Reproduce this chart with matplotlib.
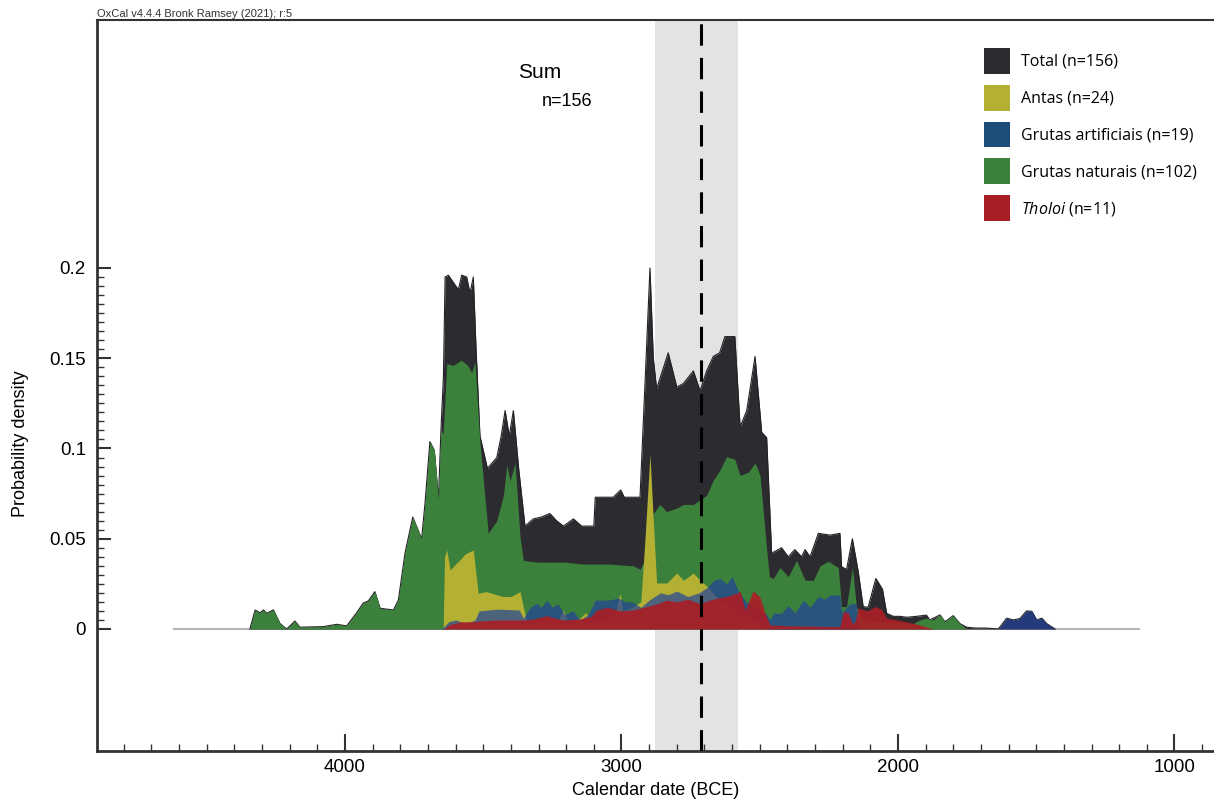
import matplotlib
matplotlib.use("Agg")
import matplotlib.pyplot as plt
from matplotlib.patches import Patch
from matplotlib.ticker import FixedLocator, MultipleLocator
import numpy as np

plt.rcParams['font.family'] = ['Liberation Sans', 'DejaVu Sans']
plt.rcParams['mathtext.fontset'] = 'custom'
plt.rcParams['mathtext.it'] = 'Open Sans:italic'
plt.rcParams['mathtext.rm'] = 'Open Sans'

# summed probability, calendar years BCE
total_years = [4344, 4325, 4307, 4295, 4283, 4259, 4235, 4211, 4181, 4163, 4078, 4030, 3994,
               3958, 3934, 3916, 3892, 3873, 3825, 3807, 3783, 3755, 3723, 3711, 3693, 3677,
               3662, 3653, 3644, 3638, 3626, 3608, 3590, 3578, 3560, 3548, 3536, 3526, 3512,
               3485, 3451, 3435, 3421, 3406, 3391, 3372, 3349, 3319, 3290, 3259, 3235, 3210,
               3174, 3144, 3100, 3095, 3030, 3003, 2990, 2933, 2915, 2897, 2885, 2873, 2831,
               2800, 2776, 2740, 2716, 2692, 2668, 2645, 2626, 2590, 2571, 2547, 2517, 2493,
               2475, 2457, 2421, 2397, 2373, 2349, 2336, 2318, 2288, 2246, 2210, 2204, 2186,
               2165, 2144, 2126, 2108, 2080, 2056, 2041, 2017, 1993, 1969, 1933, 1897, 1885,
               1848, 1830, 1800, 1776, 1752, 1720, 1680, 1637, 1607, 1583, 1559, 1535, 1516,
               1498, 1480, 1462, 1432]
total_vals = [0, 0.0105, 0.009, 0.0106, 0.0087, 0.0106, 0.003, 0.0, 0.0044, 0.001, 0.0013, 0.0026, 0.0017,
              0.009, 0.0144, 0.0155, 0.0207, 0.0115, 0.0105, 0.016, 0.042, 0.062, 0.050, 0.069, 0.1038, 0.099,
              0.072, 0.110, 0.140, 0.195, 0.196, 0.192, 0.188, 0.196, 0.195, 0.186, 0.195, 0.155, 0.107,
              0.089, 0.095, 0.107, 0.121, 0.107, 0.121, 0.089, 0.057, 0.061, 0.062, 0.064, 0.060, 0.057,
              0.061, 0.057, 0.057, 0.073, 0.073, 0.077, 0.073, 0.073, 0.136, 0.200, 0.150, 0.133, 0.153,
              0.134, 0.136, 0.143, 0.132, 0.143, 0.151, 0.153, 0.162, 0.162, 0.112, 0.121, 0.151, 0.109,
              0.106, 0.042, 0.045, 0.040, 0.044, 0.040, 0.044, 0.040, 0.053, 0.052, 0.053, 0.0345, 0.033,
              0.050, 0.032, 0.0124, 0.012, 0.028, 0.022, 0.0087, 0.007, 0.007, 0.0065, 0.007, 0.0077, 0.005,
              0.0078, 0.004, 0.0074, 0.003, 0.001, 0.0005, 0.0005, 0.0, 0.006, 0.005, 0.0058, 0.010, 0.0098,
              0.005, 0.006, 0.003, 0.0]

naturais_years = [4344, 4325, 4307, 4295, 4283, 4259, 4235, 4211, 4181, 4163, 4078, 4030, 3994,
                  3958, 3934, 3916, 3892, 3873, 3825, 3807, 3783, 3755, 3723, 3711, 3693, 3677,
                  3662, 3653, 3645, 3632, 3608, 3580, 3556, 3542, 3530, 3512, 3482, 3451, 3427,
                  3415, 3403, 3385, 3367, 3355, 3300, 3200, 3144, 3050, 2957, 2933, 2910, 2885,
                  2861, 2837, 2800, 2776, 2740, 2716, 2692, 2668, 2644, 2620, 2590, 2571, 2540,
                  2517, 2499, 2475, 2465, 2451, 2427, 2397, 2367, 2336, 2306, 2282, 2252, 2216,
                  2204, 2186, 2165, 2150, 2126, 2080, 2017, 1970, 1945, 1921, 1897, 1872, 1848,
                  1830, 1800, 1776, 1752]
naturais_vals = [0, 0.0105, 0.009, 0.0106, 0.0087, 0.0106, 0.003, 0.0, 0.0044, 0.001, 0.0013, 0.0026, 0.0017,
                 0.009, 0.0144, 0.0155, 0.0207, 0.0115, 0.0105, 0.016, 0.042, 0.062, 0.050, 0.069, 0.1038, 0.099,
                 0.072, 0.110, 0.108, 0.147, 0.146, 0.149, 0.146, 0.142, 0.148, 0.103, 0.053, 0.060, 0.074,
                 0.091, 0.082, 0.092, 0.051, 0.038, 0.037, 0.037, 0.036, 0.036, 0.035, 0.033, 0.040, 0.064,
                 0.069, 0.065, 0.067, 0.069, 0.069, 0.0715, 0.074, 0.0825, 0.088, 0.0955, 0.094, 0.085, 0.087,
                 0.092, 0.085, 0.044, 0.029, 0.028, 0.034, 0.029, 0.038, 0.027, 0.027, 0.035, 0.0375, 0.034,
                 0.0124, 0.0124, 0.034, 0.012, 0.005, 0.004, 0.004, 0.003, 0.003, 0.005, 0.006, 0.005, 0.0078,
                 0.004, 0.0074, 0.003, 0.0]

antas_years = [3645, 3640, 3632, 3620, 3600, 3580, 3566, 3536, 3526, 3518, 3490, 3463, 3430,
               3400, 3367, 3355, 3343, 3320, 3270, 3230, 3210, 3195, 3150, 3130, 3110, 3060,
               3020, 3005, 2995, 2960, 2930, 2915, 2897, 2885, 2873, 2836, 2800, 2776, 2740,
               2716, 2693, 2670, 2640, 2600, 2560, 2500, 2470]
antas_vals = [0, 0.040, 0.0438, 0.0327, 0.036, 0.039, 0.0415, 0.0438, 0.030, 0.0198, 0.0207, 0.0195, 0.018,
              0.018, 0.0207, 0.012, 0.005, 0.004, 0.006, 0.005, 0.0105, 0.004, 0.006, 0.009, 0.005, 0.005,
              0.010, 0.0198, 0.010, 0.012, 0.015, 0.050, 0.097, 0.060, 0.0255, 0.0255, 0.031, 0.027, 0.031,
              0.027, 0.024, 0.020, 0.015, 0.012, 0.008, 0.004, 0.0]

artificiais_years = [3650, 3625, 3600, 3560, 3530, 3515, 3450, 3370, 3355, 3330, 3307, 3290, 3270,
                     3250, 3230, 3205, 3175, 3150, 3120, 3095, 3050, 3010, 2985, 2960, 2930, 2900,
                     2860, 2830, 2800, 2760, 2720, 2690, 2665, 2644, 2620, 2600, 2580, 2550, 2500,
                     2475, 2463, 2451, 2421, 2397, 2373, 2342, 2318, 2288, 2264, 2246, 2210, 2204,
                     2174, 2150, 2144, 1637, 1607, 1583, 1559, 1535, 1516, 1498, 1480, 1462, 1432]
artificiais_vals = [0, 0.004, 0.005, 0.003, 0.005, 0.010, 0.011, 0.0105, 0.006, 0.012, 0.0142, 0.012, 0.016,
                    0.012, 0.014, 0.008, 0.010, 0.005, 0.008, 0.016, 0.016, 0.017, 0.015, 0.015, 0.012, 0.016,
                    0.020, 0.019, 0.021, 0.018, 0.020, 0.023, 0.027, 0.028, 0.025, 0.029, 0.022, 0.015, 0.010,
                    0.008, 0.005, 0.0087, 0.0087, 0.013, 0.009, 0.016, 0.012, 0.018, 0.0165, 0.0188, 0.0188, 0.009,
                    0.014, 0.014, 0.0, 0.0, 0.006, 0.005, 0.0058, 0.010, 0.0098, 0.005, 0.006, 0.003, 0.0]

tholoi_years = [3644, 3620, 3580, 3536, 3512, 3450, 3400, 3350, 3320, 3270, 3240, 3210, 3150,
                3110, 3090, 3050, 3005, 2957, 2909, 2870, 2836, 2800, 2760, 2716, 2680, 2656,
                2620, 2584, 2571, 2553, 2524, 2500, 2481, 2463, 2400, 2300, 2210, 2198, 2180,
                2165, 2155, 2144, 2110, 2083, 2060, 2041, 2017, 1970, 1920, 1872]
tholoi_vals = [0, 0.0025, 0.004, 0.004, 0.0044, 0.005, 0.005, 0.005, 0.0055, 0.0074, 0.006, 0.005, 0.0055,
               0.007, 0.0105, 0.012, 0.010, 0.0105, 0.0124, 0.014, 0.016, 0.015, 0.0165, 0.014, 0.016, 0.017,
               0.018, 0.0198, 0.021, 0.0105, 0.021, 0.018, 0.0087, 0.0022, 0.0018, 0.0015, 0.0013, 0.0096, 0.009,
               0.003, 0.004, 0.0116, 0.010, 0.0124, 0.011, 0.006, 0.0054, 0.004, 0.0022, 0.0]

labels = ['Total (n=156)', 'Antas (n=24)', 'Grutas artificiais (n=19)',
          'Grutas naturais (n=102)', '$\\mathit{Tholoi}$ (n=11)']
colors = ['#2c2c30', '#b3b034', '#1d4e79', '#3b813b', '#a91e26']

baseline_span = [4620, 1130]
band = [2879, 2579]
median_year = 2713

fig = plt.figure(figsize=(12.14, 8.02), dpi=100)
ax = fig.add_axes([97 / 1214, 51 / 802, (1214 - 97) / 1214, (751 - 20) / 802])

ax.axvspan(band[0], band[1], color='#e3e3e3', zorder=0, lw=0)
ax.plot(baseline_span, [0, 0], color='#b5b5b5', lw=1.5, zorder=1)

ax.fill_between(total_years, total_vals, color=colors[0], lw=0, zorder=2)
ax.plot(total_years, total_vals, color='#222226', lw=0.8, zorder=2)
ax.fill_between(naturais_years, naturais_vals, color=colors[3], lw=0, zorder=3)
ax.fill_between(antas_years, antas_vals, color=colors[1], lw=0, zorder=4)
ax.fill_between(artificiais_years, artificiais_vals, color='#22419a', alpha=0.7, lw=0, zorder=5)
ax.fill_between(tholoi_years, tholoi_vals, color=colors[4], alpha=0.92, lw=0, zorder=6)

ax.axvline(median_year, color='black', lw=2.2, dashes=(7, 4), zorder=7)

ax.set_xlim(4897, 857)
ax.set_ylim(-0.0676, 0.3374)

ax.xaxis.set_major_locator(FixedLocator([4000, 3000, 2000, 1000]))
ax.xaxis.set_minor_locator(MultipleLocator(100))
ax.yaxis.set_major_locator(FixedLocator([0, 0.05, 0.1, 0.15, 0.2]))
ax.yaxis.set_minor_locator(FixedLocator(np.arange(0, 0.2001, 0.005)))
ax.set_yticklabels(['0', '0.05', '0.1', '0.15', '0.2'])
ax.tick_params(axis='x', which='major', direction='in', length=12, width=1.5, color='#333333',
               labelsize=13.5, pad=6)
ax.tick_params(axis='x', which='minor', direction='in', length=5, width=1, color='#333333')
ax.tick_params(axis='y', which='major', direction='in', length=10, width=1.5, color='#333333',
               labelsize=13.5, pad=8)
ax.tick_params(axis='y', which='minor', direction='in', length=5, width=1, color='#333333')

for s in ['left', 'bottom']:
    ax.spines[s].set_linewidth(2)
    ax.spines[s].set_color('#333333')
ax.spines['top'].set_linewidth(1.5)
ax.spines['top'].set_color('#333333')
ax.spines['right'].set_visible(False)

ax.set_xlabel('Calendar date (BCE)', fontsize=13, labelpad=4)
ax.set_ylabel('Probability density', fontsize=13)
ax.yaxis.set_label_coords(-0.061, 0.42)

fig.text(540 / 1214, 1 - 72 / 802, 'Sum', fontsize=15, ha='center', va='center')
fig.text(567 / 1214, 1 - 101 / 802, 'n=156', fontsize=13, ha='center', va='center')
fig.text(97 / 1214, 1 - 19 / 802, 'OxCal v4.4.4 Bronk Ramsey (2021); r:5', fontsize=8,
         ha='left', va='bottom', color='#333333')

handles = [Patch(facecolor=c, edgecolor='none') for c in colors]
leg = ax.legend(handles, labels, loc='upper left', bbox_to_anchor=(984 / 1214, 1 - 48 / 802),
                bbox_transform=fig.transFigure, frameon=False, prop={'family': 'Open Sans', 'size': 11.5},
                handlelength=1.6, handleheight=2.12, labelspacing=0.68, handletextpad=0.7,
                borderaxespad=0, borderpad=0)

fig.savefig('out.png', dpi=100)
